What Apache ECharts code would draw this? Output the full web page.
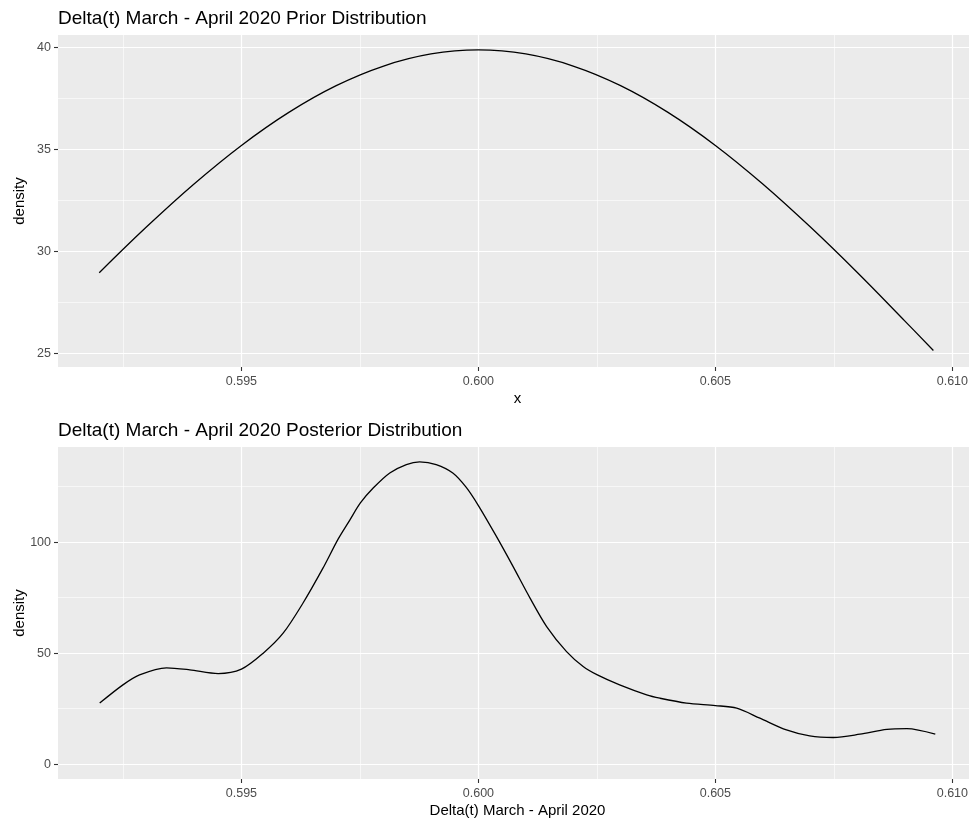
<!DOCTYPE html>
<html>
<head>
<meta charset="utf-8">
<title>Delta(t) March - April 2020</title>
<script src="https://cdn.jsdelivr.net/npm/echarts@6/dist/echarts.min.js"></script>
<style>
    html, body { margin: 0; padding: 0; background: #fff; }
    #main { width: 969px; height: 820px; }
</style>
</head>
<body>
<div id="main"></div>
<script>
// prior density
var priorX = [0.592, 0.593, 0.594, 0.595, 0.596, 0.597, 0.598, 0.599, 0.600,
    0.601, 0.602, 0.603, 0.604, 0.605, 0.606, 0.607, 0.608, 0.609, 0.6096];
var priorY = [28.97, 31.22, 33.32, 35.21, 36.83, 38.14, 39.10, 39.69, 39.89,
    39.69, 39.10, 38.14, 36.83, 35.21, 33.32, 31.22, 28.97, 26.60, 25.16];

// posterior density
var postX = [0.59201, 0.5925, 0.59285, 0.59342, 0.59391, 0.59451, 0.595, 0.59546,
    0.59588, 0.5963, 0.59672, 0.59704, 0.59729, 0.59751, 0.59778, 0.59813, 0.59848,
    0.59876, 0.59911, 0.59946, 0.59974, 0.6000, 0.60038, 0.60073, 0.60109, 0.60144,
    0.60186, 0.60221, 0.60251, 0.60298, 0.60355, 0.60383, 0.60439, 0.6050, 0.60545,
    0.60594, 0.6065, 0.60699, 0.60749, 0.60805, 0.60862, 0.60904, 0.60964];
var postY = [27.5, 35.7, 40.2, 43.4, 42.5, 40.8, 42.8, 50.0,
    59.0, 72.6, 88.3, 101.4, 110.1, 117.7, 124.4, 131.2, 135.0,
    136.2, 135.0, 131.2, 124.8, 116.5, 102.6, 89.1, 74.8, 62.0,
    50.7, 44.0, 40.2, 35.7, 31.2, 29.7, 27.5, 26.4, 25.2,
    20.7, 15.4, 12.7, 12.0, 13.5, 15.7, 16.0, 13.5];

// ticks and grid lines
var xTicks = [0.595, 0.600, 0.605, 0.610];
var xMinor = [0.5925, 0.5975, 0.6025, 0.6075];
var priorTicks = [25, 30, 35, 40];
var priorMinor = [27.5, 32.5, 37.5];
var postTicks = [0, 50, 100];
var postMinor = [25, 75, 125];

var titles = ['Delta(t) March - April 2020 Prior Distribution',
    'Delta(t) March - April 2020 Posterior Distribution'];
var xNames = ['x', 'Delta(t) March - April 2020'];

var font = '"Liberation Sans", Arial, Helvetica, sans-serif';
var xMin = 0.59113, xMax = 0.61052;

function pairs(xs, ys) {
    return xs.map(function (x, i) { return [x, ys[i]]; });
}

// labelled axis with ticks and the major white grid lines
function xAxisOf(idx) {
    return {
        type: 'value',
        gridIndex: idx,
        min: xMin,
        max: xMax,
        name: xNames[idx],
        nameLocation: 'middle',
        nameGap: 24,
        nameMoveOverlap: false,
        nameTextStyle: { color: '#000', fontSize: 15, fontFamily: font },
        axisLine: { show: false, onZero: false },
        axisTick: { show: true, length: 4, customValues: xTicks, lineStyle: { color: '#333333', width: 1.1 } },
        axisLabel: { customValues: xTicks, color: '#4D4D4D', fontSize: 12.5, fontFamily: font, margin: 8,
            formatter: function (v) { return v.toFixed(3); } },
        splitLine: { show: true, lineStyle: { color: '#ffffff', width: 1.2 } }
    };
}

function yAxisOf(idx, mn, mx, ticks) {
    return {
        type: 'value',
        gridIndex: idx,
        min: mn,
        max: mx,
        name: 'density',
        nameLocation: 'middle',
        nameGap: 31,
        nameMoveOverlap: false,
        nameTextStyle: { color: '#000', fontSize: 15, fontFamily: font },
        axisLine: { show: false, onZero: false },
        axisTick: { show: true, length: 4, customValues: ticks, lineStyle: { color: '#333333', width: 1.1 } },
        axisLabel: { customValues: ticks, color: '#4D4D4D', fontSize: 12.5, fontFamily: font, margin: 7 },
        splitLine: { show: true, lineStyle: { color: '#ffffff', width: 1.2 } }
    };
}

// hidden axis that only draws the thin minor grid lines
function minorAxis(idx, mn, mx, vals) {
    return {
        type: 'value',
        gridIndex: idx,
        min: mn,
        max: mx,
        axisLine: { show: false, onZero: false },
        axisTick: { show: false, customValues: vals },
        axisLabel: { show: false, customValues: vals },
        splitLine: { show: true, lineStyle: { color: '#ffffff', width: 0.6 } }
    };
}

var chart = echarts.init(document.getElementById('main'));
var option = {
    backgroundColor: '#ffffff',
    animation: false,
    title: [
        { text: titles[0], left: 53, top: 4, textStyle: { color: '#000', fontSize: 19, fontWeight: 'normal', fontFamily: font } },
        { text: titles[1], left: 53, top: 416, textStyle: { color: '#000', fontSize: 19, fontWeight: 'normal', fontFamily: font } }
    ],
    grid: [
        { left: 58, top: 35, width: 919, height: 332, show: true, backgroundColor: '#EBEBEB', borderWidth: 0, outerBoundsMode: 'none' },
        { left: 58, top: 447, width: 919, height: 332, show: true, backgroundColor: '#EBEBEB', borderWidth: 0, outerBoundsMode: 'none' }
    ],
    xAxis: [
        xAxisOf(0),
        xAxisOf(1),
        minorAxis(0, xMin, xMax, xMinor),
        minorAxis(1, xMin, xMax, xMinor)
    ],
    yAxis: [
        yAxisOf(0, 24.35, 40.62, priorTicks),
        yAxisOf(1, -6.7, 142.9, postTicks),
        minorAxis(0, 24.35, 40.62, priorMinor),
        minorAxis(1, -6.7, 142.9, postMinor)
    ],
    series: [
        {
            type: 'line',
            xAxisIndex: 0,
            yAxisIndex: 0,
            data: pairs(priorX, priorY),
            showSymbol: false,
            smooth: 0.4,
            z: 3,
            lineStyle: { color: '#000000', width: 1.3 }
        },
        {
            type: 'line',
            xAxisIndex: 1,
            yAxisIndex: 1,
            data: pairs(postX, postY),
            showSymbol: false,
            smooth: 0.3,
            z: 3,
            lineStyle: { color: '#000000', width: 1.3 }
        }
    ]
};
chart.setOption(option);
</script>
</body>
</html>
